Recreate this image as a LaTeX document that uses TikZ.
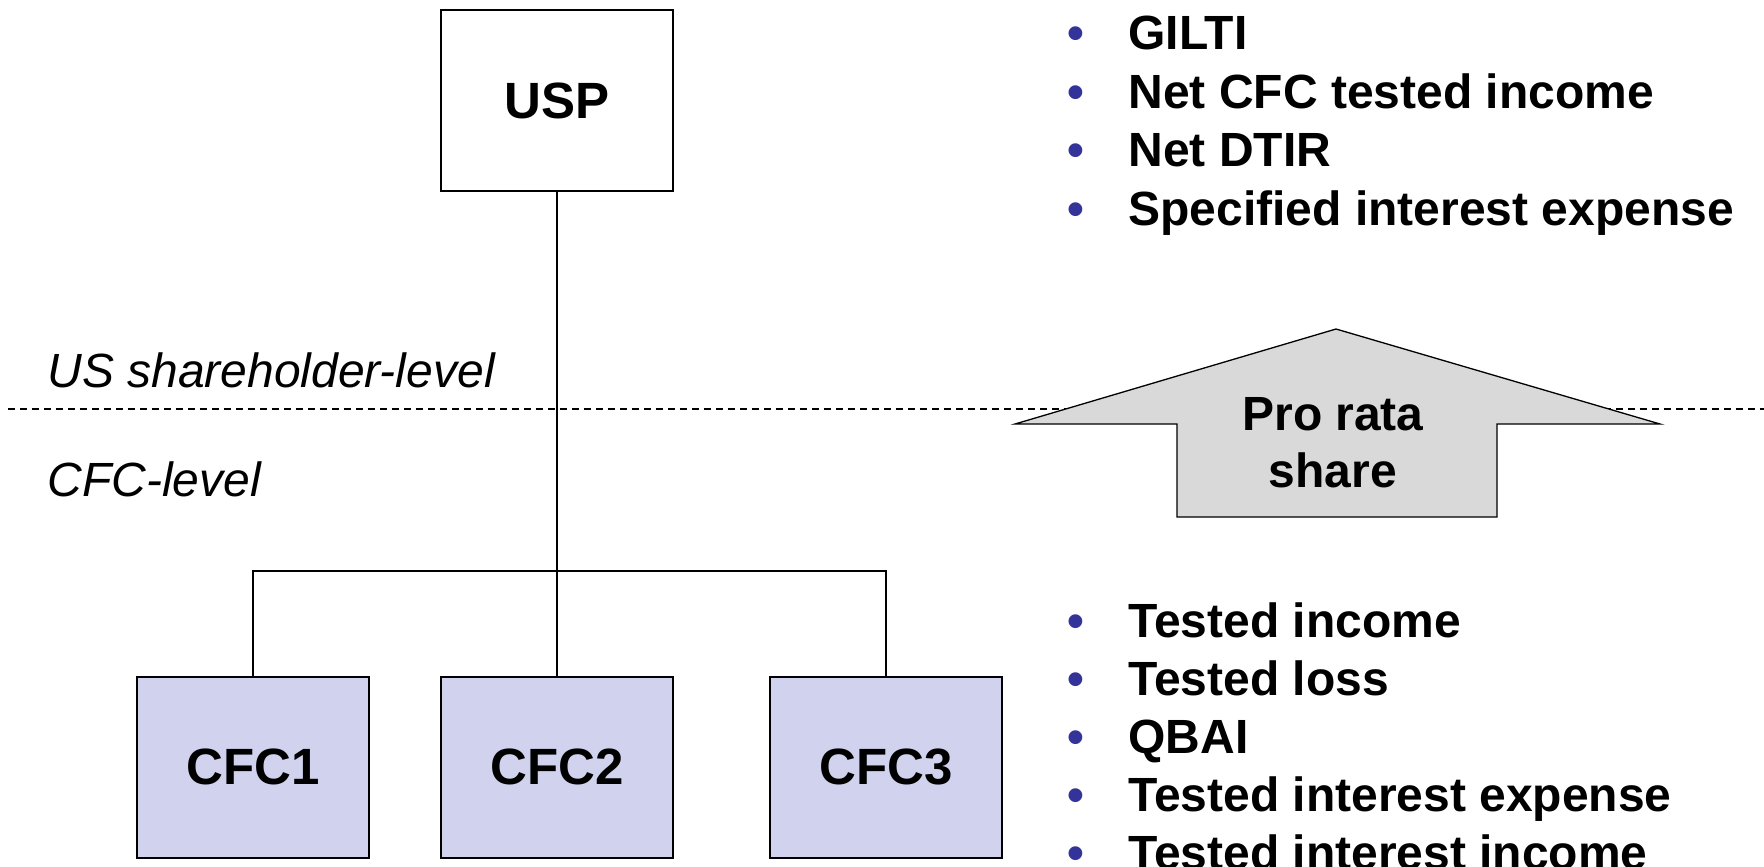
\documentclass[tikz,border=0pt]{standalone}
\usepackage{fontspec}
\setmainfont{Liberation Sans}
\definecolor{bulletblue}{RGB}{51,51,153}
\definecolor{cfcfill}{RGB}{208,210,238}
\definecolor{arrowgray}{RGB}{217,217,217}
\begin{document}
\begin{tikzpicture}[x=0.5pt,y=-0.5pt,
  entity/.style={draw, line width=1pt, inner sep=0pt, minimum width=116pt, minimum height=90.5pt,
    font=\fontsize{25.5}{30}\selectfont\bfseries},
  cfcbox/.style={entity, fill=cfcfill},
  conn/.style={line width=0.65pt},
  divider/.style={line width=0.65pt, dash pattern=on 3.5pt off 2.5pt},
  bigarrow/.style={draw, line width=0.65pt, fill=arrowgray},
  itemtext/.style={anchor=base west, inner sep=0pt, font=\fontsize{24}{28.5}\selectfont\bfseries},
  itemdot/.style={anchor=base, inner sep=0pt, text=bulletblue, font=\fontsize{24}{28.5}\selectfont\bfseries},
  levellabel/.style={anchor=base west, inner sep=0pt, font=\fontsize{24}{28.5}\selectfont\itshape},
  arrowlabel/.style={inner sep=0pt, align=center, font=\fontsize{24}{28.5}\selectfont\bfseries}]
\useasboundingbox (0,0) rectangle (1764,866);
\clip (0,0) rectangle (1764,866);

% dashed divider
\coordinate (dl) at (8,409);
\coordinate (dr) at (1764,409);
\draw[divider] (dl) -- (dr);

% level labels
\node[levellabel] (uslevel) at (47,387) {US shareholder-level};
\node[levellabel] (cfclevel) at (47,496) {CFC-level};

% entities
\node[entity] (usp) at (557,101) {USP};
\node[cfcbox] (cfc1) at (253,767) {CFC1};
\node[cfcbox] (cfc2) at (557,767) {CFC2};
\node[cfcbox] (cfc3) at (886,767) {CFC3};

% connectors
\coordinate (branch) at (557,571);
\draw[conn] (usp.south) -- (cfc2.north);
\draw[conn] (cfc1.north) |- (branch) -| (cfc3.north);

% big arrow
\draw[bigarrow] (1336,329) -- (1660,424) -- (1497,424) -- (1497,517)
  -- (1177,517) -- (1177,424) -- (1015,424) -- cycle;
\node[arrowlabel] (prorata) at (1333,443) {Pro rata\\share};

% top list
\foreach \txt [count=\i] in {GILTI, Net CFC tested income, Net DTIR, Specified interest expense}{
  \node[itemdot] (topdot\i) at (1076,{50+58.5*(\i-1)}) {•};
  \node[itemtext] (top\i) at (1128,{50+58.5*(\i-1)}) {\txt};
}

% bottom list
\foreach \txt [count=\i] in {Tested income, Tested loss, QBAI, Tested interest expense, Tested interest income}{
  \node[itemdot] (botdot\i) at (1076,{637+58*(\i-1)}) {•};
  \node[itemtext] (bot\i) at (1128,{637+58*(\i-1)}) {\txt};
}
\end{tikzpicture}
\end{document}
